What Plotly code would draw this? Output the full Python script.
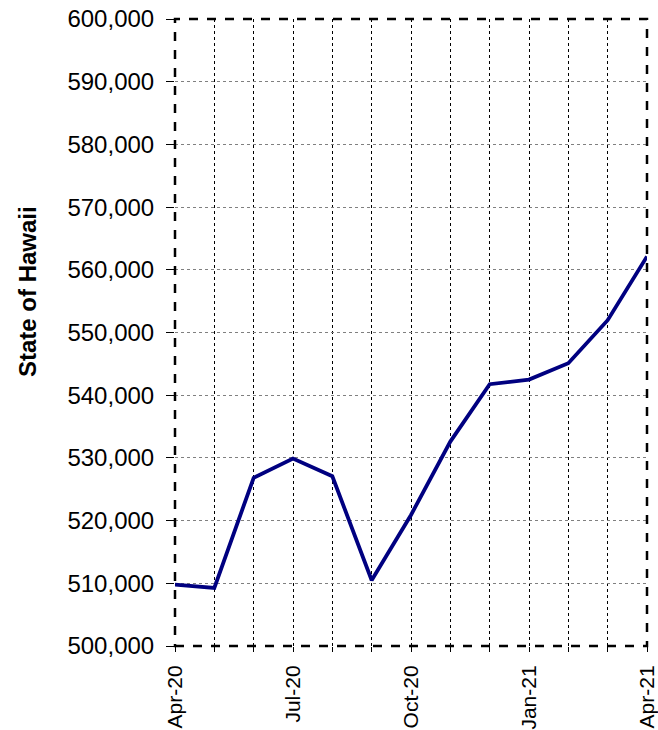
import plotly.graph_objects as go

months = ["Apr-20", "May-20", "Jun-20", "Jul-20", "Aug-20", "Sep-20", "Oct-20",
          "Nov-20", "Dec-20", "Jan-21", "Feb-21", "Mar-21", "Apr-21"]
values = [509790, 509270, 526830, 529890, 527080, 510480, 520900,
          532600, 541750, 542490, 545100, 551960, 562130]
shown_labels = {"Apr-20", "Jul-20", "Oct-20", "Jan-21", "Apr-21"}
tick_text = [m if m in shown_labels else "" for m in months]
y_title = "State of Hawaii"

x = list(range(len(months)))

# plot area target: x 175..647, y 19..646 (body margin removed below)
W, H = 658, 730
L, R, T, B = 175, 11, 19, 84
plot_w = W - L - R
plot_h = H - T - B

fig = go.Figure()
fig.add_trace(go.Scatter(x=x, y=values, mode="lines",
                         line=dict(color="#000080", width=3.8),
                         cliponaxis=True, showlegend=False))

fig.update_layout(
    width=W, height=H,
    margin=dict(l=L, r=R, t=T, b=B, autoexpand=False),
    paper_bgcolor="white", plot_bgcolor="white",
    font=dict(family="Arial, Liberation Sans, sans-serif", color="black", size=22),
    xaxis=dict(range=[0, 12], tickvals=x, ticktext=tick_text, tickangle=-90,
               showgrid=True, gridcolor="black", griddash="dot", gridwidth=1,
               ticks="outside", ticklen=5, tickcolor="black", zeroline=False,
               showline=False, tickfont=dict(size=21), automargin=False,
               ticklabeloverflow="allow", ticklabelstandoff=5),
    yaxis=dict(range=[500000, 600000], dtick=10000, tickformat=",",
               showgrid=True, gridcolor="#808080", griddash="dot", gridwidth=1,
               ticks="outside", ticklen=8, tickcolor="black", zeroline=False,
               showline=False, tickfont=dict(size=24), ticklabelstandoff=7,
               automargin=False, ticklabeloverflow="allow"),
    shapes=[dict(type="rect", xref="paper", yref="paper", x0=0, x1=1, y0=0, y1=1,
                 line=dict(color="black", width=2.5, dash="dash"), layer="above")],
    annotations=[dict(text="<b>" + y_title + "</b>", textangle=-90,
                      xref="paper", yref="paper",
                      x=(27 - L) / plot_w, y=(H - B - 292) / plot_h,
                      xanchor="center", yanchor="middle", showarrow=False,
                      font=dict(size=24))],
)

fig.write_html("out.html", config={"displayModeBar": False},
               post_script="document.body.style.margin='0';document.body.style.overflow='hidden';")
